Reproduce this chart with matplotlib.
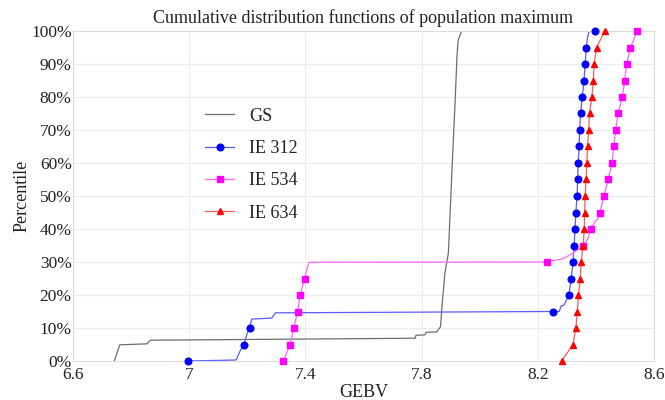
import matplotlib
matplotlib.use("Agg")
import matplotlib.pyplot as plt
from matplotlib.ticker import FuncFormatter

# ---- data ----
percentiles = [0, 5, 10, 15, 20, 25, 30, 35, 40, 45, 50, 55, 60, 65, 70, 75, 80, 85, 90, 95, 100]

gs_x = [6.742, 6.761, 6.855, 6.865, 7.777, 7.781, 7.811, 7.815, 7.852, 7.865, 7.871, 7.880,
        7.892, 7.897, 7.907, 7.915, 7.922, 7.926, 7.938]
gs_y = [0, 4.9, 5.2, 6.3, 6.9, 7.8, 7.9, 8.7, 8.8, 10.4, 17.5, 26.6, 32.6, 42.7, 62.9, 78,
        93, 97.3, 100]

# IE 312 markers at every 5th percentile
ie312_mark = [6.995, 7.188, 7.208, 8.253, 8.307, 8.315, 8.321, 8.325, 8.328, 8.331, 8.335,
              8.337, 8.339, 8.342, 8.344, 8.347, 8.353, 8.359, 8.363, 8.367, 8.398]
ie312_line_x = [6.995, 7.161, 7.175, 7.188, 7.200, 7.208, 7.215, 7.284, 7.297, 8.253, 8.274,
                8.280, 8.290, 8.307, 8.315, 8.321, 8.325, 8.328, 8.331, 8.335, 8.337, 8.339,
                8.342, 8.344, 8.347, 8.353, 8.359, 8.363, 8.367, 8.371, 8.376, 8.398]
ie312_line_y = [0, 0.3, 3, 5, 8.5, 10, 12.7, 13.0, 14.6, 15, 15, 16.7, 16.9, 20, 25, 30, 35,
                40, 45, 50, 55, 60, 65, 70, 75, 80, 85, 90, 95, 98, 99.8, 100]

# IE 534
ie534_mark = [7.324, 7.347, 7.360, 7.373, 7.382, 7.397, 8.230, 8.356, 8.383, 8.414, 8.428,
              8.442, 8.456, 8.461, 8.468, 8.476, 8.491, 8.499, 8.506, 8.519, 8.542]
ie534_line_x = [7.324, 7.347, 7.360, 7.373, 7.382, 7.397, 7.412, 8.230, 8.288, 8.317, 8.342,
                8.356, 8.372, 8.383, 8.395, 8.409, 8.414, 8.428, 8.442, 8.456, 8.461, 8.468,
                8.476, 8.491, 8.499, 8.506, 8.519, 8.542]
ie534_line_y = [0, 5, 10, 15, 20, 25, 29.9, 30, 31, 32.5, 34, 35, 37, 40, 42, 43.5, 45, 50, 55,
                60, 65, 70, 75, 80, 85, 90, 95, 100]

# IE 634
ie634_mark = [8.282, 8.321, 8.331, 8.336, 8.340, 8.346, 8.349, 8.356, 8.360, 8.361, 8.363,
              8.366, 8.369, 8.371, 8.375, 8.378, 8.386, 8.391, 8.394, 8.402, 8.431]

xticks = [6.6, 7.0, 7.4, 7.8, 8.2, 8.6]
xtick_labels = ["6.6", "7", "7.4", "7.8", "8.2", "8.6"]
yticks = [0, 10, 20, 30, 40, 50, 60, 70, 80, 90, 100]

# ---- figure ----
plt.rcParams['font.family'] = ['Liberation Serif', 'DejaVu Serif']
fig = plt.figure(figsize=(6.65, 4.0), dpi=100)
ax = fig.add_axes([0.1098, 0.0975, 0.8737, 0.825])

ax.plot(gs_x, gs_y, color='#6e6e6e', lw=0.9, label='GS')

ax.plot(ie312_line_x, ie312_line_y, color='#5a5aff', lw=0.9)
ax.plot(ie312_mark, percentiles, ls='none', marker='o', ms=4.8, color='#0000ff',
        mec='#0000ff', clip_on=False, zorder=5)
ax.plot([], [], color='#5a5aff', lw=0.9, marker='o', ms=4.8, mfc='#0000ff', mec='#0000ff',
        label='IE 312')

ax.plot(ie534_line_x, ie534_line_y, color='#ff66ff', lw=0.9)
ax.plot(ie534_mark, percentiles, ls='none', marker='s', ms=4.5, color='#ff00ff',
        mec='#ff00ff', clip_on=False, zorder=5)
ax.plot([], [], color='#ff66ff', lw=0.9, marker='s', ms=4.5, mfc='#ff00ff', mec='#ff00ff',
        label='IE 534')

ax.plot(ie634_mark, percentiles, color='#ff5a5a', lw=0.9)
ax.plot(ie634_mark, percentiles, ls='none', marker='^', ms=5, color='#ff0000',
        mec='#ff0000', clip_on=False, zorder=5)
ax.plot([], [], color='#ff5a5a', lw=0.9, marker='^', ms=5, mfc='#ff0000', mec='#ff0000',
        label='IE 634')

ax.set_xlim(6.6, 8.6)
ax.set_ylim(0, 100)
ax.set_xticks(xticks)
ax.set_xticklabels(xtick_labels)
ax.set_yticks(yticks)
ax.yaxis.set_major_formatter(FuncFormatter(lambda v, p: f"{int(round(v))}%"))
ax.tick_params(axis='both', length=0, labelsize=12.5, colors='#222222')
ax.tick_params(axis='y', pad=1)
ax.tick_params(axis='x', pad=4)
ax.grid(True, color='#ececec', lw=0.8)
ax.set_axisbelow(True)
for s in ax.spines.values():
    s.set_color('#dddddd')
    s.set_linewidth(0.8)

ax.set_title('Cumulative distribution functions of population maximum', fontsize=13,
             color='#222222', pad=6)
ax.set_xlabel('GEBV', fontsize=13, color='#222222', labelpad=1)
ax.set_ylabel('Percentile', fontsize=13, color='#222222', labelpad=0)

leg = ax.legend(loc='upper left', bbox_to_anchor=(0.2, 0.817), frameon=False, fontsize=13,
                handlelength=1.6, handletextpad=0.8, labelspacing=0.85, numpoints=1)
for t in leg.get_texts():
    t.set_color('#222222')

fig.savefig('out.png', dpi=100)
